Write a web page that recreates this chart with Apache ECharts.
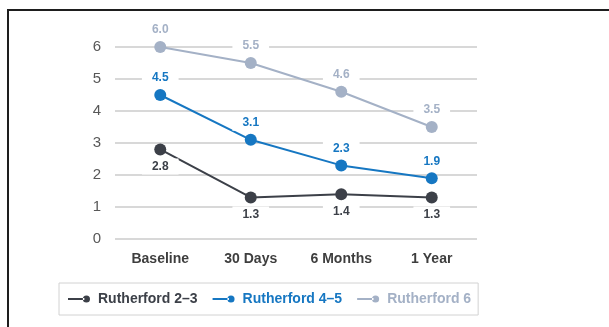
<!DOCTYPE html>
<html>
<head>
<meta charset="utf-8">
<script src="https://cdn.jsdelivr.net/npm/echarts@6/dist/echarts.min.js"></script>
<style>
  html, body { margin: 0; padding: 0; background: #fff; }
  #chart { width: 609px; height: 327px; }
</style>
</head>
<body>
<div id="chart"></div>
<script>
// Time points and mean values per Rutherford class group
const categories = ['Baseline', '30 Days', '6 Months', '1 Year'];
const rutherford23 = [2.8, 1.3, 1.4, 1.3];
const rutherford45 = [4.5, 3.1, 2.3, 1.9];
const rutherford6 = [6.0, 5.5, 4.6, 3.5];
const yTicks = [0, 1, 2, 3, 4, 5, 6];

const seriesNames = ['Rutherford 2\u20133', 'Rutherford 4\u20135', 'Rutherford 6'];
const colors = ['#3c4048', '#1677c2', '#a4b1c6'];
const FONT = '"Liberation Sans", Arial, sans-serif';

// legend glyph: short line ending in a dot
const legendIcon = 'path://M0,3.1H16V4.9H0Z M14.5,4A3.5,3.5 0 1,0 21.5,4A3.5,3.5 0 1,0 14.5,4Z';

function makeSeries(name, data, color, labelPos) {
  return {
    name: name,
    type: 'line',
    data: data,
    symbol: 'circle',
    symbolSize: 12,
    lineStyle: { color: color, width: 2 },
    itemStyle: { color: color },
    label: {
      show: true,
      position: labelPos,
      distance: 3,
      formatter: p => p.value.toFixed(1),
      color: color,
      fontFamily: FONT,
      fontWeight: 'bold',
      fontSize: 12,
      backgroundColor: '#fff',
      padding: [2, 10]
    },
    emphasis: { disabled: true },
    animation: false
  };
}

const chart = echarts.init(document.getElementById('chart'), null, { renderer: 'canvas' });
chart.setOption({
  backgroundColor: '#fff',
  animation: false,
  graphic: [{
    type: 'rect',
    shape: { x: 8, y: 10, width: 700, height: 400 },
    style: { fill: 'none', stroke: '#1e1e1e', lineWidth: 2 },
    silent: true,
    z: 100
  }],
  grid: { left: 115, right: 132, top: 47, bottom: 88, containLabel: false },
  xAxis: {
    type: 'category',
    data: categories,
    boundaryGap: true,
    axisLine: { show: false },
    axisTick: { show: false },
    axisLabel: {
      margin: 13,
      color: '#3e3e3e',
      fontFamily: FONT,
      fontWeight: 'bold',
      fontSize: 14
    }
  },
  yAxis: {
    type: 'value',
    min: yTicks[0],
    max: yTicks[yTicks.length - 1],
    interval: 1,
    axisLine: { show: false },
    axisTick: { show: false },
    axisLabel: {
      margin: 14,
      color: '#585858',
      fontFamily: FONT,
      fontSize: 15
    },
    splitLine: { lineStyle: { color: '#d8d8d8', width: 2 } }
  },
  legend: {
    left: 59,
    top: 283,
    orient: 'horizontal',
    itemWidth: 22,
    itemHeight: 8,
    itemGap: 15,
    padding: [9, 7, 9, 9],
    borderColor: '#d2d2d2',
    borderWidth: 1,
    selectedMode: false,
    icon: legendIcon,
    data: seriesNames.map((n, i) => ({
      name: n,
      itemStyle: { color: colors[i] },
      textStyle: { color: colors[i] }
    })),
    textStyle: {
      fontFamily: FONT,
      fontWeight: 'bold',
      fontSize: 14,
      padding: [0, 0, 0, 3]
    }
  },
  series: [
    makeSeries(seriesNames[0], rutherford23, colors[0], 'bottom'),
    makeSeries(seriesNames[1], rutherford45, colors[1], 'top'),
    makeSeries(seriesNames[2], rutherford6, colors[2], 'top')
  ]
});
</script>
</body>
</html>
